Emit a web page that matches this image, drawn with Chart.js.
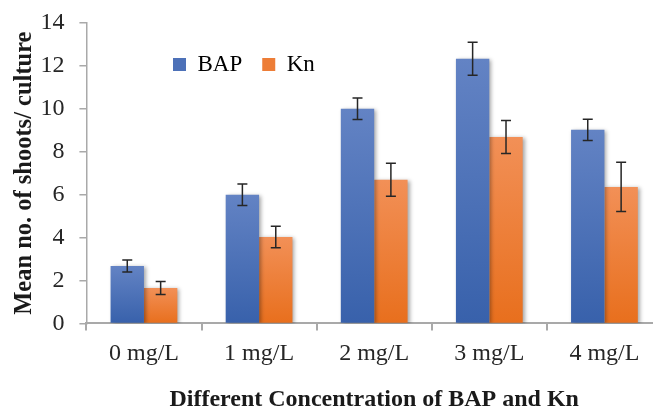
<!DOCTYPE html>
<html>
<head>
<meta charset="utf-8">
<script src="https://cdn.jsdelivr.net/npm/chart.js@4.4.1/dist/chart.umd.min.js"></script>
<style>
  html, body { margin: 0; padding: 0; background: #fff; overflow: hidden; }
  #wrap { width: 653px; height: 406px; overflow: hidden; }
</style>
</head>
<body>
<div id="wrap"><canvas id="chart" width="662" height="414"></canvas></div>
<script>
// data
const categories = ['0 mg/L', '1 mg/L', '2 mg/L', '3 mg/L', '4 mg/L'];
const bapValues = [2.67, 6.0, 10.0, 12.33, 9.02];
const bapErrors = [0.28, 0.5, 0.5, 0.77, 0.5];
const knValues = [1.65, 4.03, 6.69, 8.69, 6.36];
const knErrors = [0.3, 0.5, 0.77, 0.77, 1.15];

const SERIF = '"Liberation Serif", "Times New Roman", serif';
const AXIS_GREY = '#a9a9a9';

// gradient per bar, lighter at the top like the Excel fill
function barGradient(top, bottom) {
    return function (context) {
        const chart = context.chart;
        const yScale = chart.scales.y;
        if (!chart.chartArea || !yScale || context.parsed === undefined) return bottom;
        const y0 = yScale.getPixelForValue(0);
        const y1 = yScale.getPixelForValue(context.parsed.y);
        if (!isFinite(y0) || !isFinite(y1) || y0 === y1) return bottom;
        const g = chart.ctx.createLinearGradient(0, y1, 0, y0);
        g.addColorStop(0, top);
        g.addColorStop(1, bottom);
        return g;
    };
}

// bar shadow + error bars
const barExtras = {
    id: 'barExtras',
    beforeDatasetsDraw(chart) {
        const ctx = chart.ctx;
        ctx.save();
        ctx.shadowColor = 'rgba(0, 0, 0, 0.35)';
        ctx.shadowBlur = 4;
        ctx.shadowOffsetX = 2;
        ctx.shadowOffsetY = 1;
    },
    afterDatasetsDraw(chart) {
        const ctx = chart.ctx;
        ctx.restore();
        const yScale = chart.scales.y;
        ctx.save();
        ctx.strokeStyle = '#262626';
        ctx.lineWidth = 1.5;
        chart.data.datasets.forEach((ds, i) => {
            const meta = chart.getDatasetMeta(i);
            meta.data.forEach((bar, j) => {
                const v = ds.data[j];
                const e = ds.errors[j];
                const yTop = yScale.getPixelForValue(v + e);
                const yBot = yScale.getPixelForValue(v - e);
                const x = bar.x;
                ctx.beginPath();
                ctx.moveTo(x, yTop); ctx.lineTo(x, yBot);
                ctx.moveTo(x - 5, yTop); ctx.lineTo(x + 5, yTop);
                ctx.moveTo(x - 5, yBot); ctx.lineTo(x + 5, yBot);
                ctx.stroke();
            });
        });
        ctx.restore();
    }
};

// legend sits inside the plot in one row, moved up by the left
const legendPlace = {
    id: 'legendPlace',
    afterInit(chart) {
        if (chart.legend) chart.legend.isHorizontal = () => true;
    },
    afterLayout(chart) {
        const lg = chart.legend;
        if (!lg) return;
        const dx = 153 - lg.left;
        const dy = 33 - lg.top;
        lg.left += dx; lg.right += dx;
        lg.top += dy; lg.bottom += dy;
    }
};

new Chart(document.getElementById('chart').getContext('2d'), {
    type: 'bar',
    data: {
        labels: categories,
        datasets: [{
            label: 'BAP',
            data: bapValues,
            errors: bapErrors,
            backgroundColor: barGradient('#6383c4', '#3861ab'),
            categoryPercentage: 0.58,
            barPercentage: 1.0
        }, {
            label: 'Kn',
            data: knValues,
            errors: knErrors,
            backgroundColor: barGradient('#f29057', '#e86f1d'),
            categoryPercentage: 0.58,
            barPercentage: 1.0
        }]
    },
    options: {
        responsive: false,
        animation: false,
        layout: { padding: { top: 23, right: 0, left: 10, bottom: 0 } },
        scales: {
            x: {
                grid: {
                    drawOnChartArea: false,
                    drawTicks: true,
                    tickLength: 7,
                    color: AXIS_GREY,
                    lineWidth: 2
                },
                border: { color: AXIS_GREY, width: 2 },
                ticks: {
                    color: '#262626',
                    padding: 9,
                    font: { family: SERIF, size: 24 }
                },
                title: {
                    display: true,
                    text: 'Different Concentration of BAP and Kn',
                    color: '#1a1a1a',
                    padding: { top: 8, bottom: 0 },
                    font: { family: SERIF, size: 24, weight: 'bold' }
                }
            },
            y: {
                min: 0,
                max: 14,
                grid: {
                    drawOnChartArea: false,
                    drawTicks: true,
                    tickLength: 7,
                    color: AXIS_GREY,
                    lineWidth: 1.5
                },
                border: { color: AXIS_GREY, width: 1.5 },
                ticks: {
                    stepSize: 2,
                    color: '#262626',
                    padding: 15,
                    font: { family: SERIF, size: 24, lineHeight: 0.6 }
                },
                title: {
                    display: true,
                    text: 'Mean no. of shoots/ culture',
                    color: '#1a1a1a',
                    padding: { top: 0, bottom: -14 },
                    font: { family: SERIF, size: 24.5, weight: 'bold' }
                }
            }
        },
        plugins: {
            legend: {
                position: 'chartArea',
                align: 'start',
                labels: {
                    boxWidth: 13,
                    boxHeight: 13,
                    padding: 20,
                    color: '#262626',
                    font: { family: SERIF, size: 23 },
                    generateLabels(chart) {
                        const fills = ['#4d71b8', '#ed7d37'];
                        return chart.data.datasets.map((ds, i) => ({
                            text: ds.label,
                            fillStyle: fills[i],
                            strokeStyle: fills[i],
                            lineWidth: 0,
                            datasetIndex: i,
                            hidden: false
                        }));
                    }
                }
            },
            tooltip: { enabled: false }
        }
    },
    plugins: [barExtras, legendPlace]
});
</script>
</body>
</html>
